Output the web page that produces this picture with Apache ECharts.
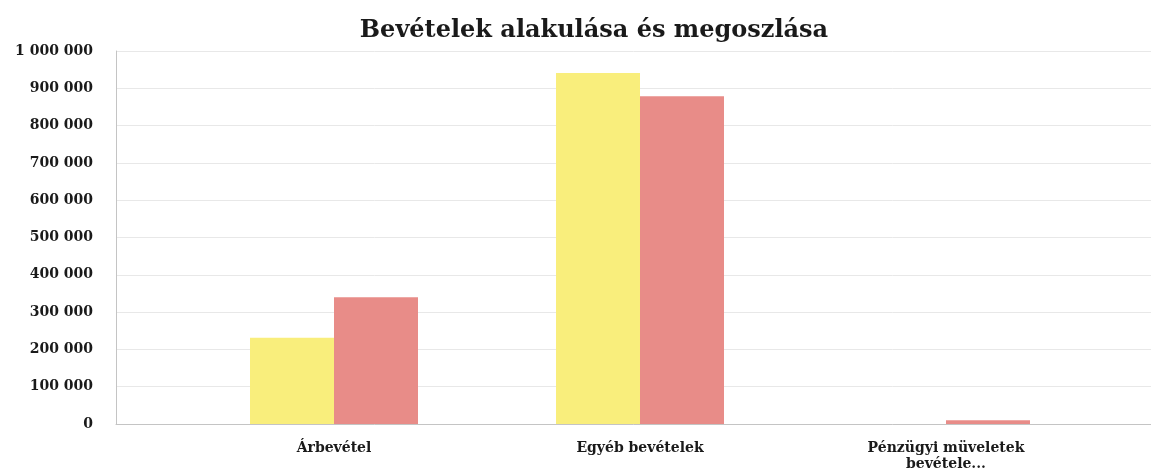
<!DOCTYPE html>
<html>
<head>
<meta charset="utf-8">
<script src="https://cdn.jsdelivr.net/npm/echarts@6/dist/echarts.min.js"></script>
<style>
html,body{margin:0;padding:0;background:#fff;}
#chart{width:1151px;height:474px;}
</style>
</head>
<body>
<div id="chart"></div>
<script>
const titleText = 'Bevételek alakulása és megoszlása';
const categories = ['Árbevétel', 'Egyéb bevételek', 'Pénzügyi müveletek\nbevétele...'];
const seriesYellow = [231000, 941000, 0];
const seriesRed = [340000, 879000, 10000];
const yMin = 0, yMax = 1000000, yStep = 100000;

function fmt(v){ return String(v).replace(/\B(?=(\d{3})+(?!\d))/g, ' '); }

const chart = echarts.init(document.getElementById('chart'), null, {renderer:'canvas'});
const labelFont = {fontFamily:'DejaVu Serif', fontWeight:'bold', fontSize:14, color:'#1a1a1a'};
chart.setOption({
  animation:false,
  backgroundColor:'#fff',
  title:{text:titleText, left:589, textAlign:'center', top:14,
    textStyle:{fontFamily:'DejaVu Serif', fontWeight:'bold', fontSize:24, color:'#1a1a1a'}},
  grid:[
    {left:116, right:0, top:51, bottom:50},
    {left:181, right:52, top:51, bottom:50}
  ],
  xAxis:[
    {gridIndex:0, type:'value', min:0, max:1, axisLabel:{show:false}, splitLine:{show:false},
     axisTick:{show:false}, axisLine:{show:true, lineStyle:{color:'#c4c4c4', width:1}}},
    {gridIndex:1, type:'category', data:categories, axisLine:{show:false}, axisTick:{show:false},
     axisLabel:Object.assign({margin:16, lineHeight:16, interval:0}, labelFont)}
  ],
  yAxis:[
    {gridIndex:0, type:'value', min:yMin, max:yMax, interval:yStep,
     axisLine:{show:true, lineStyle:{color:'#c4c4c4'}}, axisTick:{show:false},
     splitLine:{show:true, lineStyle:{color:'#e8e8e8'}},
     axisLabel:Object.assign({margin:23, formatter:fmt}, labelFont)},
    {gridIndex:1, type:'value', min:yMin, max:yMax, interval:yStep, show:false, splitLine:{show:false}}
  ],
  series:[
    {name:'A', type:'bar', xAxisIndex:1, yAxisIndex:1, data:seriesYellow, barWidth:84, barGap:'0%',
     itemStyle:{color:'#f9ee7c'}},
    {name:'B', type:'bar', xAxisIndex:1, yAxisIndex:1, data:seriesRed, barWidth:84, barGap:'0%',
     itemStyle:{color:'#e88c88'}}
  ]
});
</script>
</body>
</html>
